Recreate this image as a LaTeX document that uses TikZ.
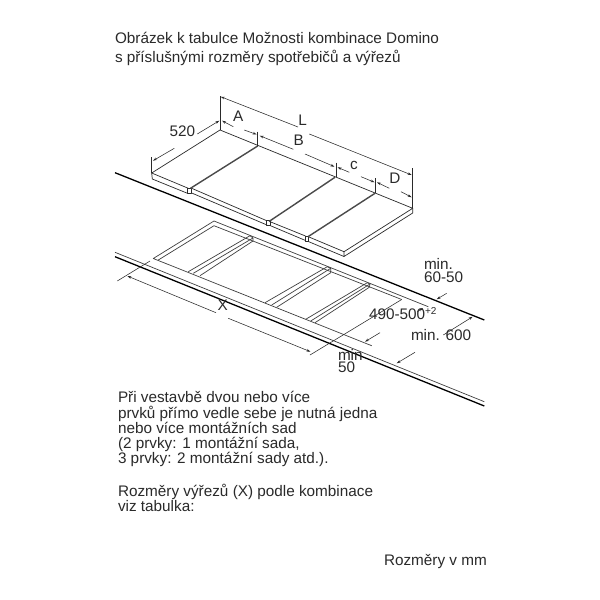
\documentclass[tikz,border=0pt]{standalone}
\usepackage{fontspec}
\setmainfont{Liberation Sans}
\usetikzlibrary{arrows.meta}
\definecolor{ink}{HTML}{2A2A2A}
\tikzset{
  thinl/.style={draw=ink,line width=0.55pt},
  framel/.style={draw=ink!90,line width=0.7pt,line join=round},
  plate/.style={draw=ink,line width=0.7pt,line join=round},
  bar/.style={draw=ink!85,line width=1.4pt},
  heavy/.style={draw=black,line width=1.3pt},
  dim/.style={draw=ink,line width=0.55pt,arrows={-Stealth[length=4pt,width=2.6pt]}},
  rdim/.style={draw=ink,line width=0.55pt,arrows={Stealth[length=4pt,width=2.6pt]-}},
  lbl/.style={inner sep=0pt,outer sep=0pt,text=ink,font=\fontsize{15.3}{15.3}\selectfont},
  para/.style={lbl,anchor=north west,align=left}
}
\begin{document}
\begin{tikzpicture}[x=1pt,y=-1pt]
\useasboundingbox (0,0) rectangle (600,600);
\fill[white] (0,0) rectangle (600,600);
% texts
\node[para,font=\fontsize{15.3}{19}\selectfont] (title) at (115,32) {Obrázek k tabulce Možnosti kombinace Domino\\s příslušnými rozměry spotřebičů a výřezů};
\node[para] (body) at (118,391.5) {Při vestavbě dvou nebo více\\prvků přímo vedle sebe je nutná jedna\\nebo více montážních sad\\(2 prvky: 1 montážní sada,\\3 prvky: 2 montážní sady atd.).};
\node[para] (body2) at (118,484) {Rozměry výřezů (X) podle kombinace\\viz tabulka:};
\node[lbl,anchor=west] (mm) at (384,561.5) {Rozměry v mm};
% plates: top faces
\draw[plate] (151.7,173) -- (220,130) -- (412.7,208.3) -- (344,251.7);
\draw[plate] (151.7,173) -- (188.3,188.3) (191.7,188.3) -- (266.7,220.7) (270,221.7) -- (305.5,236) (308.3,236.7) -- (344,251.7);
\draw[plate] (151.7,173) -- (152.3,179) -- (187.5,193.3) (191.7,193) -- (267,225) (270,225.5) -- (305.5,240.5) (308.3,241.5) -- (344,256.5);
\draw[plate] (344,251.7) -- (344,256.5) -- (412.7,213) -- (412.7,208.3);
\draw[plate] (187.5,188) rectangle (191.7,193.3);
\draw[plate] (266.5,220.5) rectangle (270,225.5);
\draw[plate] (305,236) rectangle (308.3,241);
\draw[bar] (257.7,146) -- (190.5,188.3);
\draw[bar] (335,177.3) -- (269,221.5);
\draw[bar] (375,193.3) -- (308,236.7);
% counter edges
\draw[heavy] (115,172.7) -- (484.3,320);
\draw[framel] (115,252.3) -- (484.3,401.7);
\draw[heavy] (115,256.7) -- (484.3,406);
% cut-out frame
\draw[framel] (428.3,306.7) -- (214,221) -- (153.3,258.5) -- (371.7,345.7);
\draw[framel] (158.3,260) -- (214,225.7) -- (401.7,299.5);
\draw[framel] (188.3,271.7) -- (250,235.7) -- (253,238) -- (253,241) -- (200,275.7);
\draw[framel] (193.3,273.3) -- (253,238);
\draw[framel] (265,302.7) -- (327.3,266.7) -- (330.7,268.3) -- (330.7,272.7) -- (276.7,307.3);
\draw[framel] (271.7,305) -- (330.7,268.3);
\draw[framel] (305.7,319.3) -- (367.3,282.7) -- (370,284) -- (369.3,287.3) -- (315,322.7);
\draw[framel] (310.7,321) -- (370,284);
% top dimensions
\coordinate (L1) at (220.7,96.7);
\draw[thinl] (220,96) -- (220,130);
\draw[rdim] (L1) -- (298,127);
\draw[dim] (309.3,134) -- (411.7,175);
\draw[thinl] (412.7,168.3) -- (412.7,208);
\draw[thinl] (151.7,157) -- (151.7,173);
\draw[rdim] (153,160.7) -- (174.3,148.3);
\draw[dim] (197.3,134) -- (219.3,120.7);
\draw[rdim] (222,120.7) -- (233.3,126.7);
\draw[dim] (244.3,130) -- (256.7,134.5);
\draw[thinl] (257.7,131.7) -- (257.7,146);
\draw[rdim] (259.7,135.7) -- (293.3,149.3);
\draw[dim] (305,154) -- (334.5,166.7);
\draw[thinl] (336,162.7) -- (336,177);
\draw[rdim] (337.5,167.3) -- (349.3,172.3);
\draw[dim] (361,176.7) -- (374.5,182.3);
\draw[thinl] (375.7,178.3) -- (375.7,193.3);
\draw[rdim] (377,182.3) -- (389.3,188.3);
\draw[dim] (401,191.7) -- (411.7,197.3);
% lower dimensions
\draw[thinl] (150,261) -- (117.3,281);
\draw[rdim] (127.3,276) -- (216,312.7);
\draw[dim] (228.3,318.3) -- (310.5,351.7);
\draw[thinl] (401.7,299.5) -- (310,355);
\draw[dim] (380,332.7) -- (365,341.7);
\draw[dim] (417.3,311.7) -- (423,308);
\draw[dim] (446.7,293.3) -- (436.7,299.3);
\draw[dim] (443.3,335) -- (472.7,316.7);
\draw[dim] (415,352.3) -- (396.7,363.3);
% labels
\node[lbl] (l520) at (182.3,131.7) {520};
\node[lbl] (lA) at (238.3,116.7) {A};
\node[lbl] (lL) at (302.7,120.7) {L};
\node[lbl] (lB) at (298.7,140) {B};
\node[lbl] (lc) at (354,165) {c};
\node[lbl] (lD) at (395,178.3) {D};
\node[lbl] (lX) at (222.7,305.7) {X};
\node[para,font=\fontsize{15.3}{13.5}\selectfont] (m1) at (424,258) {min.\\60-50};
\node[lbl,anchor=base west] (m3) at (369,319) {490-500\raisebox{4.5pt}{\fontsize{10}{10}\selectfont +2}};
\node[lbl,anchor=west] (m4) at (411,335) {min. 600};
\node[para,font=\fontsize{15.3}{12}\selectfont] (m5) at (338,349.5) {min\\50};
\end{tikzpicture}
\end{document}
